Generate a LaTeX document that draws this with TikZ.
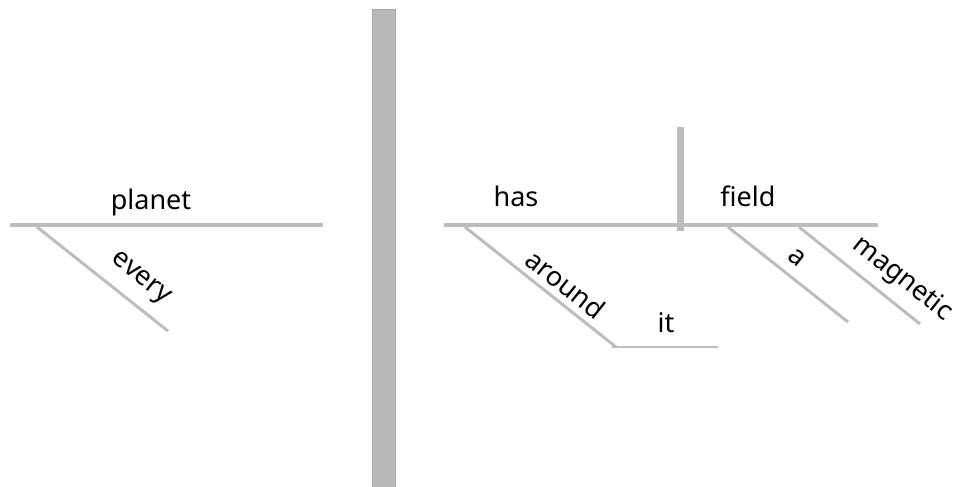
\documentclass[tikz,border=0pt]{standalone}
\usepackage{fontspec}
\setmainfont{Noto Sans}
\begin{document}
\begin{tikzpicture}[x=1pt,y=-1pt,
  baseline rule/.style={draw=rulegray,line width=4.5pt},
  slant rule/.style={draw=rulegray,line width=3pt},
  word/.style={font=\fontsize{27}{31}\selectfont,inner sep=0pt,text=black},
  slantword/.style={word,rotate=-38.5}]
\definecolor{rulegray}{HTML}{BDBDBD}
\definecolor{barfill}{HTML}{B8B8B8}
\definecolor{baredge}{HTML}{AAAAAA}
\useasboundingbox (0,0) rectangle (964,487);

% ---- left clause: "every planet"
\coordinate (L0) at (10,225);
\coordinate (L1) at (323,225);
\coordinate (Le0) at (37,227);
\coordinate (Le1) at (168,331);
\draw[baseline rule] (L0) -- (L1);
\draw[slant rule] (Le0) -- (Le1);
\node[word,anchor=base] (planet) at (151,209) {planet};
\node[slantword] (every) at (140,279) {every};

% ---- separating bar
\node[draw=baredge,fill=barfill,line width=0.8pt,minimum width=23pt,minimum height=478pt,inner sep=0pt,anchor=north] (bar) at (384,9.5) {};

% ---- right clause: "has a magnetic field around it"
\coordinate (R0) at (444,225);
\coordinate (R1) at (878,225);
\coordinate (V0) at (680,127);
\coordinate (V1) at (680,231);
\draw[baseline rule] (R0) -- (R1);
\draw[draw=rulegray,line width=7pt] (V0) -- (V1);
\node[word,anchor=base] (has) at (516,206) {has};
\node[word,anchor=base] (field) at (748,206) {field};

% prepositional phrase
\coordinate (P0) at (465,227);
\coordinate (P1) at (616,347);
\coordinate (P2) at (718,347);
\draw[slant rule] (P0) -- (P1);
\draw[draw=rulegray,line width=2.6pt] (612,347) -- (P2);
\node[slantword] (around) at (566,284) {around};
\node[word,anchor=base] (it) at (666,332) {it};

% modifiers of "field"
\coordinate (A0) at (728,227);
\coordinate (A1) at (848,322);
\coordinate (M0) at (799,227);
\coordinate (M1) at (920,324);
\draw[slant rule] (A0) -- (A1);
\draw[slant rule] (M0) -- (M1);
\node[slantword] (a) at (797,258) {a};
\node[slantword] (magnetic) at (902,279) {magnetic};
\end{tikzpicture}
\end{document}
